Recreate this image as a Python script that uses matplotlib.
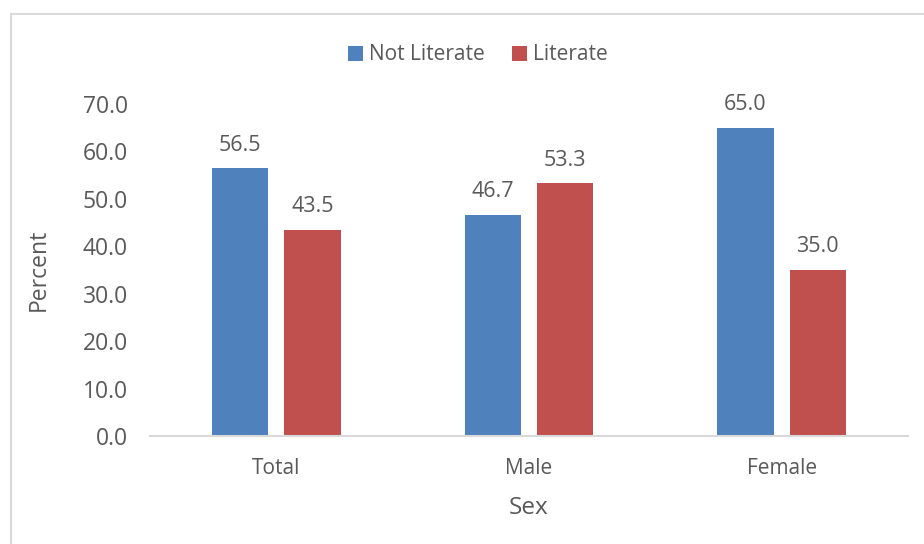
import matplotlib
matplotlib.use("Agg")
import matplotlib.pyplot as plt
from matplotlib.patches import Rectangle
import numpy as np

categories = ["Total", "Male", "Female"]
not_literate = [56.5, 46.7, 65.0]
literate = [43.5, 53.3, 35.0]
series_names = ["Not Literate", "Literate"]
y_ticks = [0, 10, 20, 30, 40, 50, 60, 70]

blue = "#4F81BD"
red = "#C0504D"
text_col = "#595959"
line_col = "#D9D9D9"

plt.rcParams["font.family"] = ["Open Sans", "DejaVu Sans"]

fig = plt.figure(figsize=(9.24, 5.44), dpi=100)
fig.patches.append(Rectangle((11 / 924, -0.1), 1.0, 1 - 14 / 544 + 0.1,
                             transform=fig.transFigure, fill=False,
                             edgecolor=line_col, linewidth=1.5))

ax = fig.add_axes([150 / 924, 1 - 436 / 544, 758 / 924, 332 / 544])
x = np.arange(len(categories))
w = 0.222
off = 0.143
b1 = ax.bar(x - off, not_literate, w, color=blue, label=series_names[0])
b2 = ax.bar(x + off, literate, w, color=red, label=series_names[1])

for bars, vals in ((b1, not_literate), (b2, literate)):
    for r, v in zip(bars, vals):
        ax.annotate(f"{v:.1f}", (r.get_x() + r.get_width() / 2, v),
                    xytext=(0, 9), textcoords="offset points",
                    ha="center", va="bottom", fontsize=15.5, color=text_col)

ax.set_xlim(-0.5, 2.5)
ax.set_ylim(0, 70)
ax.set_yticks(y_ticks)
ax.set_yticklabels([f"{t:.1f}" for t in y_ticks])
ax.set_xticks(x)
ax.set_xticklabels(categories)
ax.tick_params(axis="both", length=0, labelcolor=text_col)
ax.tick_params(axis="y", pad=16, labelsize=16.5)
ax.tick_params(axis="x", pad=16, labelsize=15)

for s in ("top", "right", "left"):
    ax.spines[s].set_visible(False)
ax.spines["bottom"].set_color(line_col)
ax.spines["bottom"].set_linewidth(1.5)

ax.set_ylabel("Percent", fontsize=16.5, color=text_col, labelpad=23)
ax.set_xlabel("Sex", fontsize=17.5, color=text_col, labelpad=12)

leg = fig.legend(handles=[b1, b2], labels=series_names, loc="center",
                 bbox_to_anchor=(478 / 924, 1 - 55 / 544), ncol=2,
                 frameon=False, fontsize=15, handlelength=0.72,
                 handleheight=0.72, handletextpad=0.3, columnspacing=1.3)
for t in leg.get_texts():
    t.set_color(text_col)

fig.savefig("out.png", dpi=100)
